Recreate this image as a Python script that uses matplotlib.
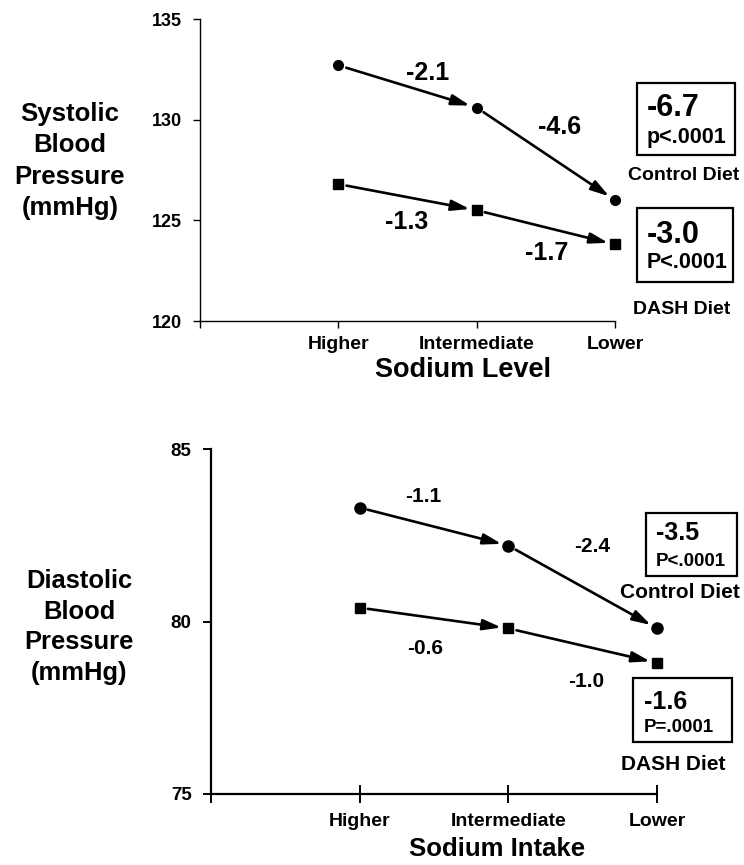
import matplotlib
matplotlib.use("Agg")
import matplotlib.pyplot as plt
from matplotlib.patches import Rectangle

# ---------------- data ----------------
categories = ["Higher", "Intermediate", "Lower"]

sbp_control = [132.7, 130.6, 126.0]
sbp_dash = [126.8, 125.5, 123.8]
sbp_control_steps = ["-2.1", "-4.6"]
sbp_dash_steps = ["-1.3", "-1.7"]
sbp_control_total = ["-6.7", "p<.0001"]
sbp_dash_total = ["-3.0", "P<.0001"]
sbp_yticks = [120, 125, 130, 135]

dbp_control = [83.3, 82.2, 79.8]
dbp_dash = [80.4, 79.8, 78.8]
dbp_control_steps = ["-1.1", "-2.4"]
dbp_dash_steps = ["-0.6", "-1.0"]
dbp_control_total = ["-3.5", "P<.0001"]
dbp_dash_total = ["-1.6", "P=.0001"]
dbp_yticks = [75, 80, 85]

W, H = 744, 865
FONT = ["Liberation Sans", "DejaVu Sans"]
NARROW = ["Liberation Sans Narrow", "Liberation Sans", "DejaVu Sans"]
plt.rcParams["font.family"] = FONT

fig = plt.figure(figsize=(W / 100, H / 100), dpi=100)


def fx(px):
    return px / W


def fy(py):
    return 1 - py / H


def pt(px):
    return px * 0.72


def draw_series(ax, vals, marker, ms, label_steps, offsets, fs):
    xs = list(range(1, len(vals) + 1))
    ax.plot(xs, vals, linestyle="none", marker=marker, ms=ms, color="black",
            clip_on=False, zorder=3)
    for i in range(len(vals) - 1):
        ax.annotate("", xy=(xs[i + 1], vals[i + 1]), xytext=(xs[i], vals[i]),
                    arrowprops=dict(arrowstyle="-|>,head_length=1.1,head_width=0.32",
                                    lw=1.9, color="black", shrinkA=6, shrinkB=5),
                    annotation_clip=False)
        mx = (xs[i] + xs[i + 1]) / 2
        my = (vals[i] + vals[i + 1]) / 2
        ox, oy = offsets[i]
        ax.annotate(label_steps[i], xy=(mx, my), xytext=(pt(ox), -pt(oy)),
                    textcoords="offset points", ha="center", va="center",
                    fontsize=fs, fontweight="bold", annotation_clip=False)


def box(x0, y0, x1, y1, big, small, tx, y_big, y_small, fs_big, fs_small, lw=1.6):
    fig.patches.append(Rectangle((fx(x0), fy(y1)), fx(x1) - fx(x0), fy(y0) - fy(y1),
                                 transform=fig.transFigure, fill=False,
                                 edgecolor="black", lw=lw))
    fig.text(fx(tx), fy(y_big), big, ha="left", va="center", fontsize=fs_big,
             fontweight="bold")
    fig.text(fx(tx), fy(y_small), small, ha="left", va="center", fontsize=fs_small,
             fontweight="bold")


# ---------------- top panel (systolic) ----------------
ax1 = fig.add_axes([fx(200), fy(321), fx(615) - fx(200), fy(19) - fy(321)])
ax1.set_xlim(0, 3)
ax1.set_ylim(120, 135)
for s in ["top", "right"]:
    ax1.spines[s].set_visible(False)
for s in ["left", "bottom"]:
    ax1.spines[s].set_linewidth(1.0)
ax1.set_yticks(sbp_yticks)
ax1.set_yticklabels([str(v) for v in sbp_yticks], family=NARROW,
                    fontweight="bold", fontsize=13)
ax1.set_xticks([0, 1, 2, 3])
ax1.set_xticklabels([""] + categories, fontweight="bold", fontsize=14)
ax1.tick_params(axis="y", direction="out", length=5, width=1.0, pad=8)
ax1.tick_params(axis="x", direction="out", length=5, width=1.0, pad=6)

draw_series(ax1, sbp_control, "o", 7, sbp_control_steps,
            [(20.5, -13.4), (13.7, -26.9)], 18)
draw_series(ax1, sbp_dash, "s", 7, sbp_dash_steps,
            [(-0.9, 24.8), (1.2, 25.7)], 18)

fig.text(fx(463), fy(370), "Sodium Level", ha="center", va="center",
         fontsize=19.5, fontweight="bold")
fig.text(fx(70), fy(161), "Systolic\nBlood\nPressure\n(mmHg)", ha="center",
         va="center", fontsize=18.5, fontweight="bold", linespacing=1.37)

box(637, 83, 735, 155, sbp_control_total[0], sbp_control_total[1], 647,
    108, 138, 22, 15.5)
fig.text(fx(684), fy(175), "Control Diet", ha="center", va="center",
         fontsize=14, fontweight="bold")
box(637, 208, 733, 282, sbp_dash_total[0], sbp_dash_total[1], 647,
    235, 262, 22, 15.5)
fig.text(fx(682), fy(310), "DASH Diet", ha="center", va="center",
         fontsize=14, fontweight="bold")

# ---------------- bottom panel (diastolic) ----------------
ax2 = fig.add_axes([fx(211), fy(794), fx(657) - fx(211), fy(449) - fy(794)])
ax2.set_xlim(0, 3)
ax2.set_ylim(75, 85)
for s in ["top", "right"]:
    ax2.spines[s].set_visible(False)
for s in ["left", "bottom"]:
    ax2.spines[s].set_linewidth(1.6)
ax2.set_yticks(dbp_yticks)
ax2.set_yticklabels([str(v) for v in dbp_yticks], fontweight="bold", fontsize=13.5)
ax2.set_xticks([0, 1, 2, 3])
ax2.set_xticklabels([""] + categories, fontweight="bold", fontsize=14)
ax2.tick_params(axis="y", direction="out", length=6, width=1.4, pad=8)
ax2.tick_params(axis="x", direction="inout", length=13, width=1.4, pad=7)

draw_series(ax2, dbp_control, "o", 8, dbp_control_steps,
            [(-11, -30), (9, -40)], 15)
draw_series(ax2, dbp_dash, "s", 7.5, dbp_dash_steps,
            [(-9, 30), (4, 36)], 15)

fig.text(fx(497), fy(849), "Sodium Intake", ha="center", va="center",
         fontsize=18.5, fontweight="bold")
fig.text(fx(79), fy(627), "Diastolic\nBlood\nPressure\n(mmHg)", ha="center",
         va="center", fontsize=18.4, fontweight="bold", linespacing=1.35)

box(646, 513, 737, 576, dbp_control_total[0], dbp_control_total[1], 656,
    533, 562, 18, 13.5)
fig.text(fx(680), fy(592), "Control Diet", ha="center", va="center",
         fontsize=15, fontweight="bold")
box(633, 678, 732, 742, dbp_dash_total[0], dbp_dash_total[1], 644,
    702, 728, 18, 13.5)
fig.text(fx(673), fy(765), "DASH Diet", ha="center", va="center",
         fontsize=15, fontweight="bold")

fig.savefig("out.png", dpi=100)
